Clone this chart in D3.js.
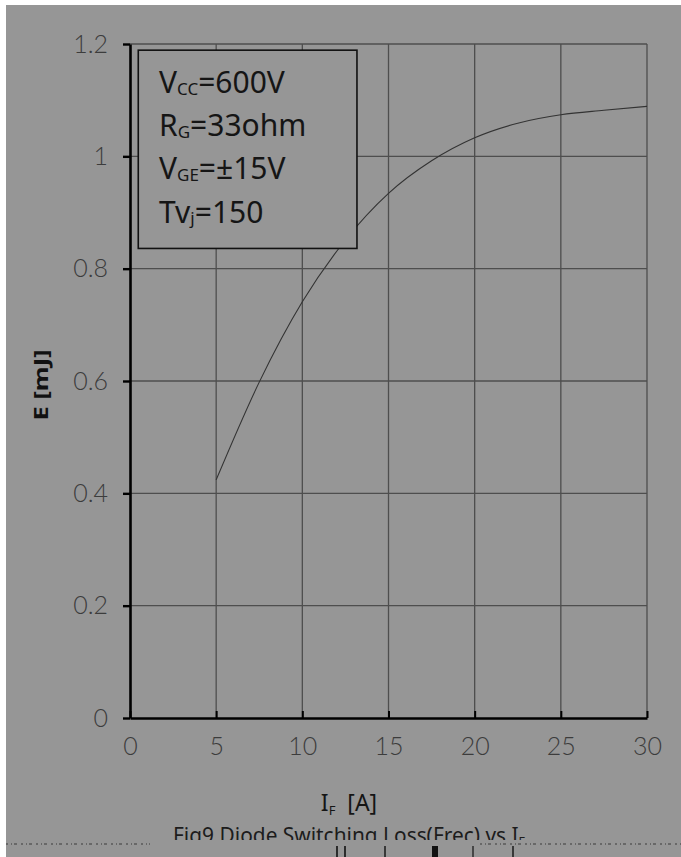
<!DOCTYPE html>
<html>
<head>
<meta charset="utf-8">
<script src="https://cdn.jsdelivr.net/npm/d3@7"></script>
<style>
  html, body { margin: 0; padding: 0; background: #ffffff; }
  svg { display: block; }
</style>
</head>
<body>
<svg id="chart" width="681" height="857"></svg>
<script>
// ---- data ----
const currentIF = [5, 7.5, 10, 12.5, 15, 17.5, 20, 22.5, 25, 27.5, 30];
const energyE   = [0.424, 0.598, 0.741, 0.851, 0.934, 0.992, 1.033, 1.059, 1.074, 1.082, 1.089];
const xTicks = [0, 5, 10, 15, 20, 25, 30];
const yTicks = [0, 0.2, 0.4, 0.6, 0.8, 1, 1.2];
const yTickLabels = ["0", "0.2", "0.4", "0.6", "0.8", "1", "1.2"];
const conditionLines = [
  { main: "V", sub: "CC", rest: "=600V" },
  { main: "R", sub: "G", rest: "=33ohm" },
  { main: "V", sub: "GE", rest: "=\u00B115V" },
  { main: "Tv", sub: "j", rest: "=150" }
];
const xLabel = { main: "I", sub: "F", rest: "  [A]" };
const yLabel = "E  [mJ]";
const titleText = { main: "Fig9.Diode Switching Loss(Frec) vs I", sub: "F" };

// ---- setup ----
const svg = d3.select("#chart");
const W = 681, H = 857;
const bg = "#969696";
const font = "'Noto Sans', 'Noto Sans CJK SC', sans-serif";
const tickFont = "Lato, 'Noto Sans', sans-serif";

svg.append("rect").attr("x", 6).attr("y", 5).attr("width", W - 6).attr("height", H - 5).attr("fill", bg);

const x = d3.scaleLinear().domain([0, 30]).range([130, 647]);
const y = d3.scaleLinear().domain([0, 1.2]).range([718, 44]);

// grid
const grid = svg.append("g").attr("stroke", "#4e4e4e").attr("stroke-width", 1.3);
grid.selectAll("line.v").data(xTicks.filter(d => d > 0)).join("line")
  .attr("x1", d => x(d)).attr("x2", d => x(d)).attr("y1", y(1.2)).attr("y2", y(0));
grid.selectAll("line.h").data(yTicks.filter(d => d > 0)).join("line")
  .attr("x1", x(0)).attr("x2", x(30)).attr("y1", d => y(d)).attr("y2", d => y(d));

// curve
const line = d3.line().x((d, i) => x(currentIF[i])).y(d => y(d)).curve(d3.curveMonotoneX);
svg.append("path").attr("d", line(energyE)).attr("fill", "none")
  .attr("stroke", "#333").attr("stroke-width", 1.1);

// y axis
const yAxis = d3.axisLeft(y).tickValues(yTicks).tickFormat((d, i) => yTickLabels[i])
  .tickSize(7).tickSizeOuter(0).tickPadding(15);
const gy = svg.append("g").attr("transform", `translate(${x(0)},0)`).call(yAxis);
gy.select(".domain").attr("stroke", "#000").attr("stroke-width", 2.6);
gy.selectAll(".tick line").attr("stroke", "#000").attr("stroke-width", 2.4);
gy.selectAll(".tick text").attr("font-family", tickFont).attr("font-weight", 300)
  .attr("font-size", 25).attr("fill", "#3c3c3c");

// x axis
const xAxis = d3.axisBottom(x).tickValues(xTicks).tickSize(-7).tickSizeOuter(0).tickPadding(19);
const gx = svg.append("g").attr("transform", `translate(0,${y(0)})`).call(xAxis);
gx.select(".domain").attr("stroke", "#000").attr("stroke-width", 2.6);
gx.selectAll(".tick line").attr("stroke", "#000").attr("stroke-width", 2);
gx.selectAll(".tick text").attr("font-family", tickFont).attr("font-weight", 300)
  .attr("font-size", 25).attr("fill", "#3c3c3c");

// condition box
const box = svg.append("g");
box.append("rect").attr("x", x(0.48)).attr("y", y(1.189)).attr("width", x(13.17) - x(0.48))
  .attr("height", y(0.836) - y(1.189)).attr("fill", bg).attr("stroke", "#111").attr("stroke-width", 1.6);
conditionLines.forEach((c, i) => {
  const t = box.append("text").attr("x", 159).attr("y", 93 + i * 43.2)
    .attr("font-family", font).attr("font-size", 30).attr("fill", "#151515");
  t.append("tspan").text(c.main);
  t.append("tspan").attr("font-size", 17).attr("dy", 1.5).text(c.sub);
  t.append("tspan").attr("dy", -1.5).text(c.rest);
});

// y label
svg.append("text").attr("transform", "translate(48,385) rotate(-90)")
  .attr("text-anchor", "middle").attr("font-family", font).attr("font-weight", "bold")
  .attr("font-size", 19).attr("fill", "#111").attr("textLength", 71)
  .attr("lengthAdjust", "spacingAndGlyphs").text(yLabel);

// x label
const xl = svg.append("text").attr("x", 349).attr("y", 811).attr("text-anchor", "middle")
  .attr("font-family", font).attr("font-size", 23).attr("fill", "#151515")
  .style("white-space", "pre");
xl.append("tspan").text(xLabel.main);
xl.append("tspan").attr("font-size", 13).attr("dy", 4).text(xLabel.sub);
xl.append("tspan").attr("dy", -4).text(xLabel.rest);

// title (clipped at the bottom, as in the scan)
svg.append("clipPath").attr("id", "titleClip").append("rect")
  .attr("x", 0).attr("y", 818).attr("width", W).attr("height", 22);
const tg = svg.append("g").attr("clip-path", "url(#titleClip)");
const tt = tg.append("text").attr("x", 0).attr("y", 0)
  .attr("font-family", font).attr("font-size", 22).attr("fill", "#1c1c1c");
tt.append("tspan").text(titleText.main);
tt.append("tspan").attr("font-size", 13).attr("dy", 3).text(titleText.sub);
const natW = tt.node().getComputedTextLength();
tt.attr("transform", `translate(173,843) scale(${352 / natW},1)`);

// scan artefacts at the bottom edge
const speck = svg.append("g").attr("stroke", "#333").attr("stroke-width", 1.3)
  .attr("stroke-dasharray", "2,3,1,2,3,4").attr("opacity", 0.6);
speck.append("line").attr("x1", 6).attr("x2", 150).attr("y1", 844).attr("y2", 844);
speck.append("line").attr("x1", 480).attr("x2", 681).attr("y1", 844).attr("y2", 844);
const marks = svg.append("g").attr("stroke", "#111");
[[337, 1.6], [345, 1.6], [385, 1.4], [435, 6], [473, 1.2], [513, 1.4]].forEach(([mx, w]) => {
  marks.append("line").attr("x1", mx).attr("x2", mx).attr("y1", 846).attr("y2", 857).attr("stroke-width", w);
});
</script>
</body>
</html>
